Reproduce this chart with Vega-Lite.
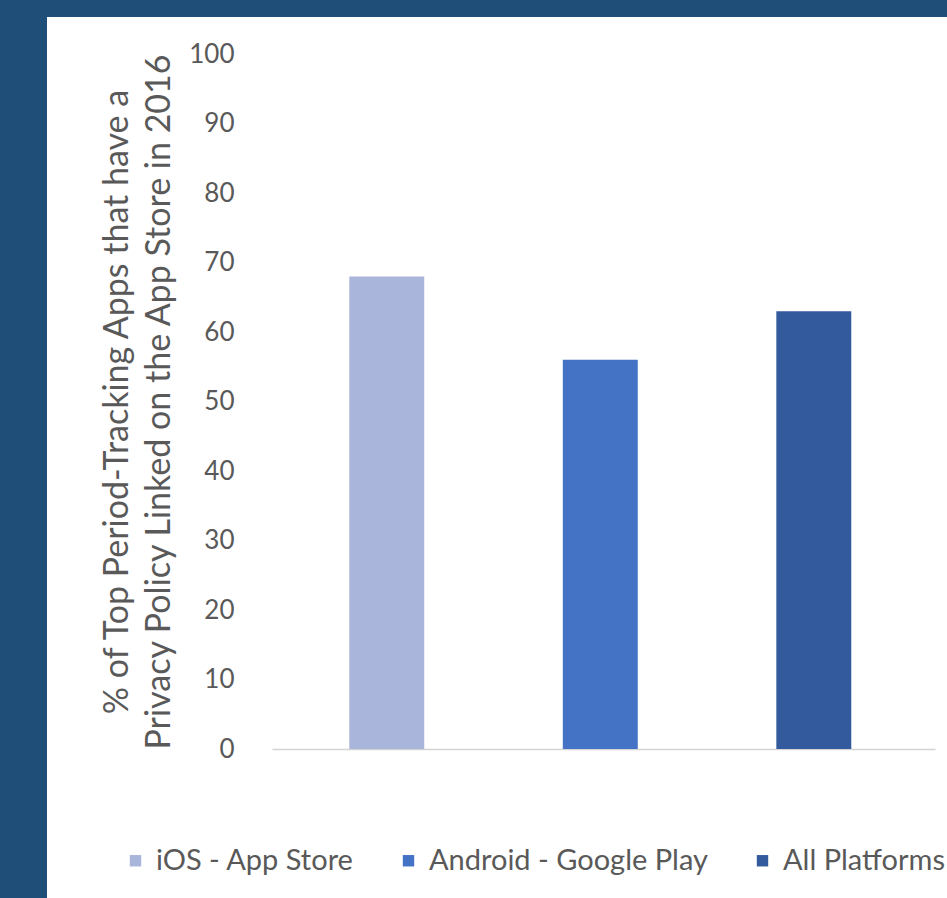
{
  "$schema": "https://vega.github.io/schema/vega-lite/v6.json",
  "width": 900,
  "height": 881,
  "autosize": {"type": "none"},
  "padding": {"left": 47, "top": 17, "right": 0, "bottom": 0},
  "background": "#1F4E79",
  "data": {
    "values": [
      {"platform": "iOS - App Store", "pct": 68},
      {"platform": "Android - Google Play", "pct": 56},
      {"platform": "All Platforms", "pct": 63}
    ]
  },
  "mark": {"type": "bar"},
  "encoding": {
    "x": {
      "field": "platform",
      "type": "nominal",
      "sort": ["iOS - App Store", "Android - Google Play", "All Platforms"],
      "scale": {"range": [225, 888], "paddingInner": 0.649, "paddingOuter": 0.377, "align": 0.48},
      "axis": {"orient": "bottom", "offset": -149, "labels": false, "ticks": false, "title": null, "domainColor": "#D4D4D4", "domainWidth": 1.5}
    },
    "y": {
      "field": "pct",
      "type": "quantitative",
      "scale": {"domain": [0, 100], "range": [732, 37], "nice": false},
      "axis": {
        "orient": "left",
        "offset": -225,
        "values": [0, 10, 20, 30, 40, 50, 60, 70, 80, 90, 100],
        "domain": false,
        "ticks": false,
        "grid": false,
        "labelPadding": 38,
        "labelFont": "Lato",
        "labelFontSize": 26,
        "labelColor": "#595959",
        "title": ["% of Top Period-Tracking Apps that have a", "Privacy Policy Linked on the App Store in 2016"],
        "titleFont": "Lato",
        "titleFontSize": 34,
        "titleFontWeight": "normal",
        "titleColor": "#595959",
        "titleLineHeight": 42,
        "titlePadding": 12
      }
    },
    "color": {
      "field": "platform",
      "type": "nominal",
      "sort": ["iOS - App Store", "Android - Google Play", "All Platforms"],
      "scale": {"domain": ["iOS - App Store", "Android - Google Play", "All Platforms"], "range": ["#A9B5DA", "#4472C4", "#335A9D"]},
      "legend": {
        "orient": "none",
        "legendX": 74,
        "legendY": 829,
        "direction": "horizontal",
        "title": null,
        "padding": 0,
        "symbolType": "square",
        "symbolSize": 130,
        "symbolStrokeWidth": 0,
        "symbolOpacity": 1,
        "labelFont": "Lato",
        "labelFontSize": 29,
        "labelColor": "#595959",
        "labelOffset": 6,
        "labelLimit": 500,
        "columnPadding": 40
      }
    }
  },
  "config": {
    "view": {"fill": "white", "stroke": null}
  }
}
